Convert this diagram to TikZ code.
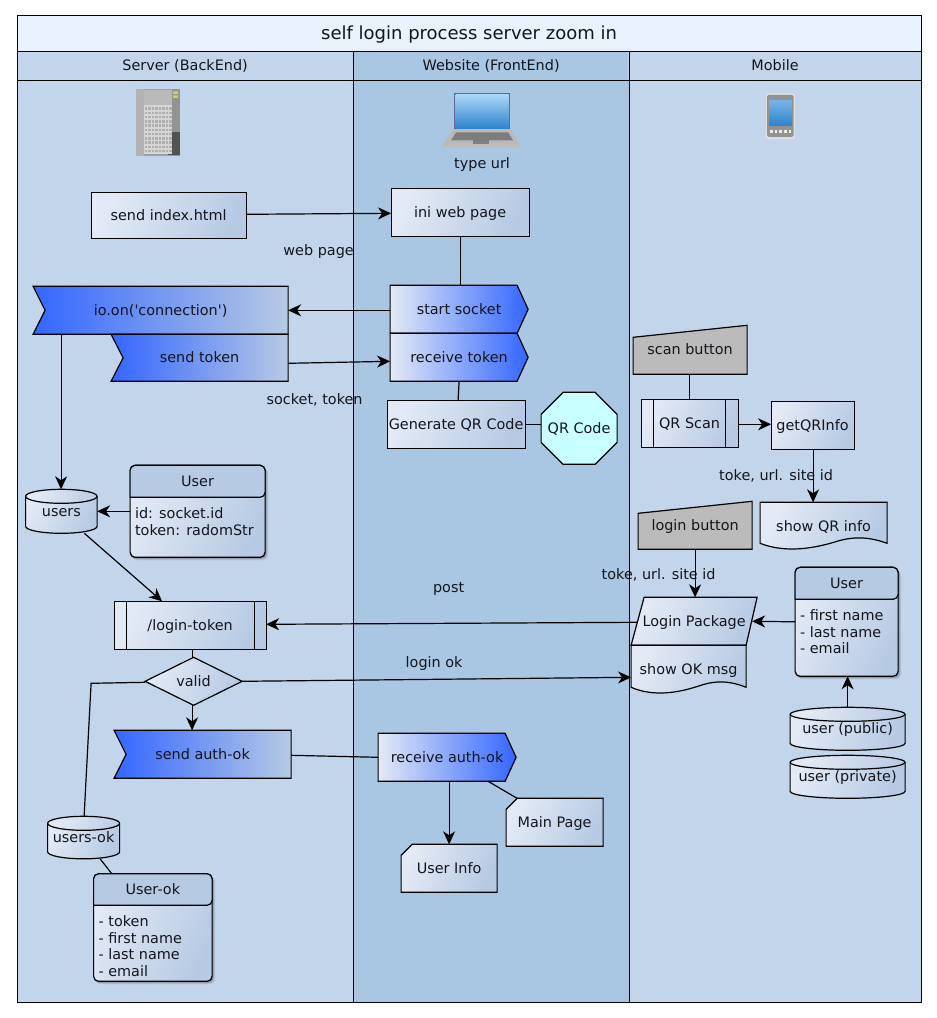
\documentclass[tikz,border=0pt]{standalone}
\usepackage{fontspec}
\setmainfont{DejaVu Sans}
\usetikzlibrary{arrows.meta,calc}
\definecolor{lanea}{HTML}{C3D5EB}
\definecolor{laneb}{HTML}{A9C6E2}
\definecolor{titlebg}{HTML}{E8F1FC}
\definecolor{gl}{HTML}{E3EAF5}
\definecolor{gr}{HTML}{B7CAE4}
\definecolor{hdr}{HTML}{B6CAE4}
\definecolor{bluea}{HTML}{3366FF}
\definecolor{grayb}{HTML}{BBBBBB}
\definecolor{oct}{HTML}{C8FFFF}
\definecolor{ink}{HTML}{14161E}
\definecolor{scrt}{HTML}{A9D6F7}
\definecolor{scrb}{HTML}{2E83CC}
\tikzset{
  tx/.style={text=ink,font=\fontsize{14.4}{16.5}\selectfont,inner sep=0pt,outer sep=0pt},
  lbl/.style={tx,text height=12pt,text depth=2pt},
  ln/.style={draw=black,line width=1.2pt},
  card/.style={ln,left color=gl,right color=gr,shading angle=65},
  bluer/.style={ln,left color=gl,right color=bluea},
  bluel/.style={ln,left color=bluea,right color=gr},
  plain/.style={lbl,draw=black,line width=1.2pt,left color=gl,right color=gr,shading angle=65},
  con/.style={draw=black,line width=1.2pt},
  arr/.style={con,-{Stealth[length=13pt,width=12pt,inset=4pt]}},
}
% rectangular node from corners: options, name, x1,y1,x2,y2, text
\newcommand{\rn}[7][]{%
  \pgfmathsetmacro\rw{#5-#3}\pgfmathsetmacro\rh{#6-#4}%
  \pgfmathsetmacro\rx{(#3+#5)/2}\pgfmathsetmacro\ry{(#4+#6)/2}%
  \node[lbl,minimum width=\rw pt,minimum height=\rh pt,#1] (#2) at (\rx,\ry) {#7};}
% cylinder: name,x1,y1,x2,y2,text
\newcommand{\cyl}[6]{%
  \pgfmathsetmacro\ca{(#4-#2)/2}%
  \path[card] (#2,#3+7) -- (#2,#5-7) arc[start angle=180,end angle=0,x radius=\ca,y radius=7] -- (#4,#3+7) arc[start angle=0,end angle=-180,x radius=\ca,y radius=7] -- cycle;
  \draw[ln] (#2,#3+7) arc[start angle=180,end angle=0,x radius=\ca,y radius=7];
  \rn{#1}{#2}{#3}{#4}{#5}{#6}}
% shadow for a rounded box
\newcommand{\shad}[4]{%
  \foreach \o/\k in {5/.06,4/.07,3/.09,2/.1,1/.12}{\fill[black,opacity=\k,rounded corners=5pt] (#1-1+\o*.6,#2+\o*.6) rectangle (#3+\o*.6,#4+\o*.6);}}
% UML-ish box: name,x1,y1,x2,yh,y2,title,body
\newcommand{\uml}[8]{%
  \shad{#2}{#3}{#4}{#6}
  \path[card,rounded corners=5pt] (#2,#3) rectangle (#4,#6);
  \path[ln,fill=hdr,rounded corners=5pt] (#2,#5) -- (#2,#3) -- (#4,#3) -- (#4,#5) [sharp corners] -- cycle;
  \rn{#1}{#2}{#3}{#4}{#6}{}
  \pgfmathsetmacro\tx{(#2+#4)/2}\pgfmathsetmacro\ty{(#3+#5)/2}
  \node[lbl] (#1t) at (\tx,\ty) {#7};
  \node[tx,anchor=north west,align=left] (#1b) at (#2+5,#5+10.5) {#8};}
% predefined process: name,x1,y1,x2,y2,inset,text
\newcommand{\pp}[7]{%
  \rn[plain]{#1}{#2}{#3}{#4}{#5}{#7}
  \draw[ln] (#2+#6,#3) -- (#2+#6,#5) (#4-#6,#3) -- (#4-#6,#5);}
% document: name,x1,y1,x2,yb,ybot,text
\newcommand{\docu}[7]{%
  \pgfmathsetmacro\dw{#4-#2}
  \path[card] (#2,#3) -- (#4,#3) -- (#4,#5) .. controls (#4-0.17*\dw,#5-8) and (#4-0.3*\dw,#5-6) .. (#4-0.42*\dw,#5-1) .. controls (#4-0.58*\dw,#5+5) and (#4-0.8*\dw,#5+10) .. (#2,#5) -- cycle;
  \rn{#1}{#2}{#3}{#4}{#6}{#7}}
\begin{document}
\begin{tikzpicture}[x=1pt,y=-1pt]
\useasboundingbox (0,0) rectangle (937,1018);
\fill[white] (0,0) rectangle (937,1018);
\begin{scope}[shift={(0.1,0.3)}]
% pool
\path[ln,fill=titlebg] (17,15) rectangle (921,51);
\path[ln,fill=lanea] (17,51) rectangle (353,1002);
\path[ln,fill=laneb] (353,51) rectangle (629,1002);
\path[ln,fill=lanea] (629,51) rectangle (921,1002);
\fill[lanea] (353.5,51.5) rectangle (628.5,80);
\fill[laneb] (354,52) rectangle (628,79.5);
\draw[ln] (17,80) -- (921,80);
\draw[ln] (353,51) -- (353,1002) (629,51) -- (629,1002);
\node[tx,font=\fontsize{18}{20}\selectfont,text height=13pt,text depth=4pt] (title) at (469,35) {self login process server zoom in};
\node[lbl] (h1) at (185,65.5) {Server (BackEnd)};
\node[lbl] (h2) at (491,65.5) {Website (FrontEnd)};
\node[lbl] (h3) at (775,65.5) {Mobile};
% server icon
\fill[gray!75] (136,89) rectangle (180,156);
\fill[gray!60] (136,89) rectangle (144,156);
\fill[gray!55] (144,90) rectangle (172,105);
\fill[gray!85] (172,89) rectangle (180,156);
\fill[gray!65!black] (168,132) rectangle (180,155);
\fill[yellow!65!gray] (173,91) rectangle (178,93.5) (173,95) rectangle (178,97.5);
\fill[gray!32] (143.5,105) rectangle (172,154);
\foreach \i in {0,...,7}{\foreach \j in {0,...,10}{\fill[gray!130!black,opacity=.8] (144.8+\i*3.5,107+\j*4.25) rectangle ++(2.2,2.6);}}
% laptop icon
\fill[gray!50!blue!40!gray] (454,93) rectangle (510,129);
\path[top color=scrt,bottom color=scrb] (455.5,94.5) rectangle (508.5,128);
\fill[gray!55] (453,129) -- (511,129) -- (521,146) -- (442,146) -- cycle;
\fill[gray!90!black,opacity=.85] (456,132) -- (508,132) -- (513,140) -- (451,140) -- cycle;
\fill[gray!90!black,opacity=.8] (473,140) rectangle (489,144);
\fill[gray!50] (441,145.5) rectangle (522,148);
\node[lbl] (typeurl) at (482,163) {type url};
% phone icon
\fill[gray!25,rounded corners=1.5pt] (765.5,93) rectangle (795,139);
\fill[gray!85,rounded corners=1.5pt] (767,94.5) rectangle (793.5,136.5);
\path[top color=scrt!60!scrb,bottom color=scrb] (769,100) rectangle (791.5,125);
\foreach \i in {0,1,2,3,4}{\fill[gray!15] (770+\i*4.6,129.5) rectangle ++(2.6,3);}
% nodes
\rn[plain]{sendidx}{91}{192}{246}{238}{send index.html}
\rn[plain]{iniweb}{391}{188}{529}{236}{ini web page}
\path[bluer] (390,285) -- (517,285) -- (528,309) -- (517,333) -- (390,333) -- cycle;
\rn{startsock}{390}{285}{528}{333}{start socket}
\path[bluer] (390,333) -- (517,333) -- (528,357) -- (517,381) -- (390,381) -- cycle;
\rn{recvtok}{390}{333}{528}{381}{receive token}
\path[bluel] (33,286) -- (288,286) -- (288,334) -- (33,334) -- (45,310) -- cycle;
\rn{ioon}{33}{286}{288}{334}{io.on(\textquotesingle connection\textquotesingle)}
\path[bluel] (111,334) -- (288,334) -- (288,381) -- (111,381) -- (123,357.5) -- cycle;
\rn{sendtok}{111}{334}{288}{381}{send token}
\rn[plain]{genqr}{387}{400}{525}{448}{Generate QR Code}
\path[ln,fill=oct] (563,392) -- (595,392) -- (617,414) -- (617,442) -- (595,464) -- (563,464) -- (541,442) -- (541,414) -- cycle;
\rn{qrcode}{541}{392}{617}{464}{QR Code}
\path[ln,fill=grayb] (633,337) -- (747,325) -- (747,374) -- (633,374) -- cycle;
\rn{scanbtn}{633}{325}{747}{374}{scan button}
\pp{qrscan}{641}{399}{738}{447}{12.5}{QR Scan}
\rn[plain]{getqr}{771}{401}{854}{449}{getQRInfo}
\docu{showqr}{760}{502}{887}{543}{550}{show QR info}
\path[ln,fill=grayb] (638,513) -- (752,501) -- (752,549) -- (638,549) -- cycle;
\rn{loginbtn}{638}{501}{752}{549}{login button}
\path[card] (644,597) -- (757,597) -- (746,645) -- (631,645) -- cycle;
\rn{loginpkg}{631}{597}{757}{645}{Login Package}
\docu{showok}{631}{645}{746}{687}{693}{show OK msg}
\uml{usermob}{795}{567}{898}{599}{676}{User}{- first name\\- last name\\- email}
\cyl{userpub}{790}{707}{905}{750}{user (public)}
\cyl{userpri}{790}{755}{905}{798}{user (private)}
\cyl{users}{25.5}{489}{97}{533}{users}
\uml{usersrv}{130}{465}{265}{497}{557}{User}{id: socket.id\\token: radomStr}
\pp{logintok}{114}{601}{266}{649}{12}{/login-token}
\path[card] (193.5,657) -- (242,681) -- (193.5,705) -- (145,681) -- cycle;
\rn{valid}{145}{657}{242}{705}{valid}
\path[bluel] (114,730) -- (291,730) -- (291,778) -- (114,778) -- (126,754) -- cycle;
\rn{sendauth}{114}{730}{291}{778}{send auth-ok}
\path[bluer] (378,733) -- (505,733) -- (516,757) -- (505,781) -- (378,781) -- cycle;
\rn{recvauth}{378}{733}{516}{781}{receive auth-ok}
\path[card] (517,798) -- (603,798) -- (603,846) -- (506,846) -- (506,809) -- cycle;
\rn{mainpage}{506}{798}{603}{846}{Main Page}
\path[card] (412,844) -- (497,844) -- (497,892) -- (401,892) -- (401,855) -- cycle;
\rn{userinfo}{401}{844}{497}{892}{User Info}
\cyl{usersok}{47.5}{816}{119.5}{858.5}{users-ok}
\uml{userok}{93.5}{873.5}{212}{905}{981}{User-ok}{- token\\- first name\\- last name\\- email}
% labels
\node[lbl] (lwebpage) at (318.5,250) {web page};
\node[lbl] (lsock) at (314.5,399) {socket, token};
\node[lbl] (ltoke1) at (776,475) {toke, url. site id};
\node[lbl] (ltoke2) at (658.5,574) {toke, url. site id};
\node[lbl] (lpost) at (448.5,587) {post};
\node[lbl] (llogin) at (434,662) {login ok};
% connectors
\coordinate (bend) at (91,683);
\draw[arr] ([yshift=1pt]sendidx.east) -- ([yshift=-1pt]iniweb.west);
\draw[con] (iniweb.south) -- ([xshift=1pt]startsock.north);
\draw[arr] ([yshift=-1pt]startsock.west) -- (ioon.east);
\draw[arr] ([yshift=-5.5pt]sendtok.east) -- ([yshift=-4pt]recvtok.west);
\draw[con] (recvtok.south) -- ([xshift=2pt]genqr.north);
\draw[con] (genqr.east) -- (qrcode.west |- genqr.east);
\draw[con] ([xshift=-1pt]scanbtn.south) -- ([xshift=-0.5pt]qrscan.north);
\draw[arr] ([yshift=-1pt]qrscan.east) -- ([yshift=1pt]getqr.west);
\draw[arr] ([xshift=0.5pt]getqr.south) -- ([xshift=-10.5pt]showqr.north);
\draw[arr] (loginbtn.south) -- ([xshift=1pt]loginpkg.north);
\draw[arr] (usermob.west) -- ([xshift=-5pt]loginpkg.east);
\draw[arr] ([xshift=6pt,yshift=-1pt]loginpkg.west) -- ([yshift=1pt]logintok.east);
\draw[arr] ([xshift=-99.5pt]ioon.south) -- ([xshift=-0.25pt]users.north);
\draw[arr] (usersrv.west) -- (users.east);
\draw[arr] ([xshift=23pt]users.south) -- ([xshift=-28pt]logintok.north);
\draw[con] ([xshift=2pt]logintok.south) -- ([xshift=-1.5pt]valid.north);
\draw[arr] ([xshift=-1.5pt]valid.south) -- ([xshift=-10.5pt]sendauth.north);
\draw[arr] (valid.east) -- ([yshift=-8pt]showok.west);
\draw[con] ([yshift=-1pt]valid.west) -- (bend) -- ([xshift=0.5pt]usersok.north);
\draw[con] ([yshift=-1pt]sendauth.east) -- (recvauth.west);
\draw[arr] ([xshift=2pt]recvauth.south) -- (userinfo.north);
\draw[con] ([xshift=41pt]recvauth.south) -- ([xshift=-37.5pt]mainpage.north);
\draw[con] ([xshift=16.5pt]usersok.south) -- ([xshift=-41pt]userok.north);
\draw[arr] (userpub.north) -- ([xshift=1pt]usermob.south);
\end{scope}
\end{tikzpicture}
\end{document}
